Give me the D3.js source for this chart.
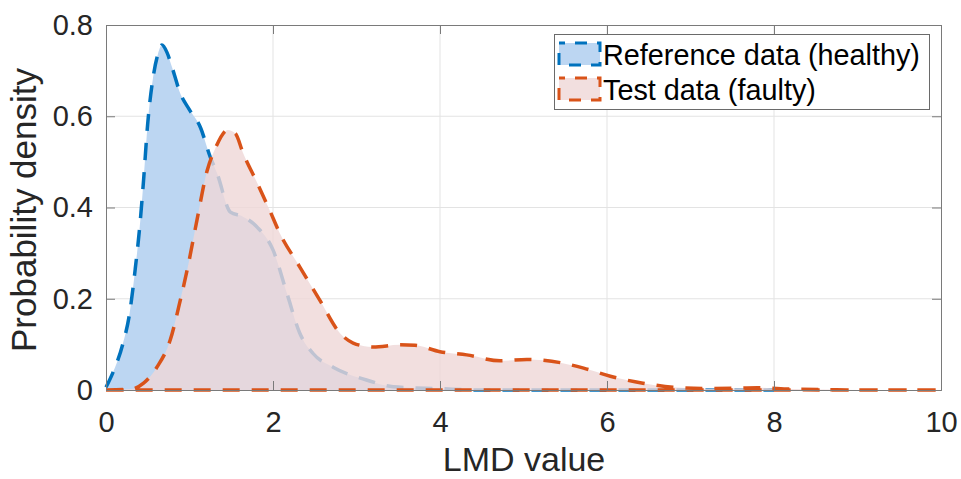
<!DOCTYPE html>
<html>
<head>
<meta charset="utf-8">
<script src="https://cdn.jsdelivr.net/npm/d3@7"></script>
<style>
  html, body { margin: 0; padding: 0; background: #fff; }
  svg { display: block; font-family: "Liberation Sans", Arial, Helvetica, sans-serif; }
</style>
</head>
<body>
<svg id="chart" width="961" height="479"></svg>
<script>
// Kernel density estimates of the LMD value
const refX = [0, 0.08, 0.2, 0.28, 0.35, 0.41, 0.45, 0.5, 0.56, 0.62, 0.67, 0.73, 0.79, 0.89, 1.0, 1.13, 1.25, 1.33, 1.49, 1.64, 1.81, 2.0, 2.17, 2.32, 2.48, 2.72, 3.12, 3.44, 4.0, 4.5, 5, 6, 7, 8];
const refY = [0.006, 0.037, 0.10, 0.165, 0.265, 0.37, 0.46, 0.585, 0.68, 0.735, 0.756, 0.74, 0.708, 0.65, 0.614, 0.576, 0.51, 0.475, 0.39, 0.38, 0.357, 0.307, 0.21, 0.125, 0.08, 0.05, 0.022, 0.007, 0.003, 0, 0, 0, 0, 0];

const testX = [0, 0.3, 0.45, 0.61, 0.77, 0.89, 0.98, 1.09, 1.21, 1.31, 1.46, 1.55, 1.64, 1.81, 1.96, 2.08, 2.32, 2.56, 2.80, 2.96, 3.2, 3.52, 3.7, 4.0, 4.32, 4.72, 5.04, 5.44, 5.72, 6.04, 6.43, 6.79, 7.2, 7.6, 7.8, 8.2, 8.6, 9, 10];
const testY = [0, 0.002, 0.015, 0.05, 0.11, 0.197, 0.27, 0.373, 0.48, 0.53, 0.57, 0.562, 0.52, 0.454, 0.394, 0.344, 0.27, 0.197, 0.125, 0.103, 0.094, 0.099, 0.098, 0.084, 0.077, 0.064, 0.067, 0.06, 0.048, 0.03, 0.015, 0.006, 0.003, 0.004, 0.005, 0.002, 0.001, 0, 0];

const xTicks = [0, 2, 4, 6, 8, 10];
const yTicks = [0, 0.2, 0.4, 0.6, 0.8];
const seriesNames = ["Reference data (healthy)", "Test data (faulty)"];

const blueLine = "#0072BD", blueFill = "#bcd6f2";
const redLine = "#D95319", redFill = "rgba(239,215,215,0.8)";
const textColor = "#262626", axisColor = "#7a7a7a", gridColor = "#e3e3e3";

const svg = d3.select("#chart");
const plotL = 106, plotR = 941, plotT = 25, plotB = 390;
const x = d3.scaleLinear().domain([0, 10]).range([plotL, plotR]);
const y = d3.scaleLinear().domain([0, 0.8]).range([plotB, plotT]);

const ref = refX.map((v, i) => [v, refY[i]]);
const test = testX.map((v, i) => [v, testY[i]]);

// grid
const grid = svg.append("g");
grid.selectAll(".gx").data(xTicks.slice(1, -1)).join("line")
  .attr("x1", d => x(d)).attr("x2", d => x(d)).attr("y1", plotT).attr("y2", plotB)
  .attr("stroke", gridColor).attr("stroke-width", 1);
grid.selectAll(".gy").data(yTicks.slice(1, -1)).join("line")
  .attr("x1", plotL).attr("x2", plotR).attr("y1", d => y(d)).attr("y2", d => y(d))
  .attr("stroke", gridColor).attr("stroke-width", 1);

const curve = d3.curveMonotoneX;
const area = d3.area().x(d => x(d[0])).y0(y(0)).y1(d => y(d[1])).curve(curve);
const line = d3.line().x(d => x(d[0])).y(d => y(d[1])).curve(curve);
const dash = "17,12";

// healthy reference density
svg.append("path").attr("d", area(ref)).attr("fill", blueFill);
svg.append("path").attr("d", line(ref)).attr("fill", "none")
  .attr("stroke", blueLine).attr("stroke-width", 3.5).attr("stroke-dasharray", dash);

// faulty test density (outline closes along the baseline)
svg.append("path").attr("d", area(test)).attr("fill", redFill);
svg.append("path").attr("d", line(test) + "L" + x(10) + "," + y(0) + "L" + x(0) + "," + y(0))
  .attr("fill", "none").attr("stroke", redLine).attr("stroke-width", 3.5)
  .attr("stroke-dasharray", dash);

// axes box with inward ticks on all four sides
const ax = svg.append("g").attr("class", "axes");
ax.append("g").attr("transform", `translate(0,${plotB})`)
  .call(d3.axisBottom(x).tickValues(xTicks).tickSize(-9).tickPadding(21).tickFormat(d3.format("d")));
ax.append("g").attr("transform", `translate(${plotL},0)`)
  .call(d3.axisLeft(y).tickValues(yTicks).tickSize(-9).tickPadding(13).tickFormat(d => d === 0 ? "0" : d3.format(".1f")(d)));
ax.append("g").attr("transform", `translate(0,${plotT})`)
  .call(d3.axisTop(x).tickValues(xTicks).tickSize(-9).tickFormat(""));
ax.append("g").attr("transform", `translate(${plotR},0)`)
  .call(d3.axisRight(y).tickValues(yTicks).tickSize(-9).tickFormat(""));
ax.selectAll(".domain").attr("stroke", axisColor).attr("stroke-width", 1);
ax.selectAll(".tick line").attr("stroke", axisColor).attr("stroke-width", 1);
ax.selectAll(".tick text").attr("fill", textColor).attr("font-size", 29)
  .attr("font-family", "'Liberation Sans', Arial, Helvetica, sans-serif");

// axis labels
svg.append("text").attr("x", 524).attr("y", 471).attr("text-anchor", "middle")
  .attr("font-size", 34).attr("fill", textColor).text("LMD value");
svg.append("text").attr("transform", "translate(36,210) rotate(-90)").attr("text-anchor", "middle")
  .attr("font-size", 35).attr("fill", textColor).text("Probability density");

// legend
const lg = svg.append("g");
lg.append("rect").attr("x", 554.5).attr("y", 34.5).attr("width", 375).attr("height", 75)
  .attr("fill", "#fff").attr("stroke", "#6a6a6a").attr("stroke-width", 1);
const entries = [
  { name: seriesNames[0], fill: blueFill, stroke: blueLine, y: 43 },
  { name: seriesNames[1], fill: redFill, stroke: redLine, y: 78 }
];
entries.forEach(e => {
  lg.append("rect").attr("x", 559).attr("y", e.y).attr("width", 41).attr("height", 22)
    .attr("fill", e.fill).attr("stroke", e.stroke).attr("stroke-width", 3)
    .attr("stroke-dasharray", "12,10").attr("stroke-dashoffset", 6);
  lg.append("text").attr("x", 603).attr("y", e.y + 22).attr("font-size", 28.8)
    .attr("fill", "#000").text(e.name);
});
</script>
</body>
</html>
